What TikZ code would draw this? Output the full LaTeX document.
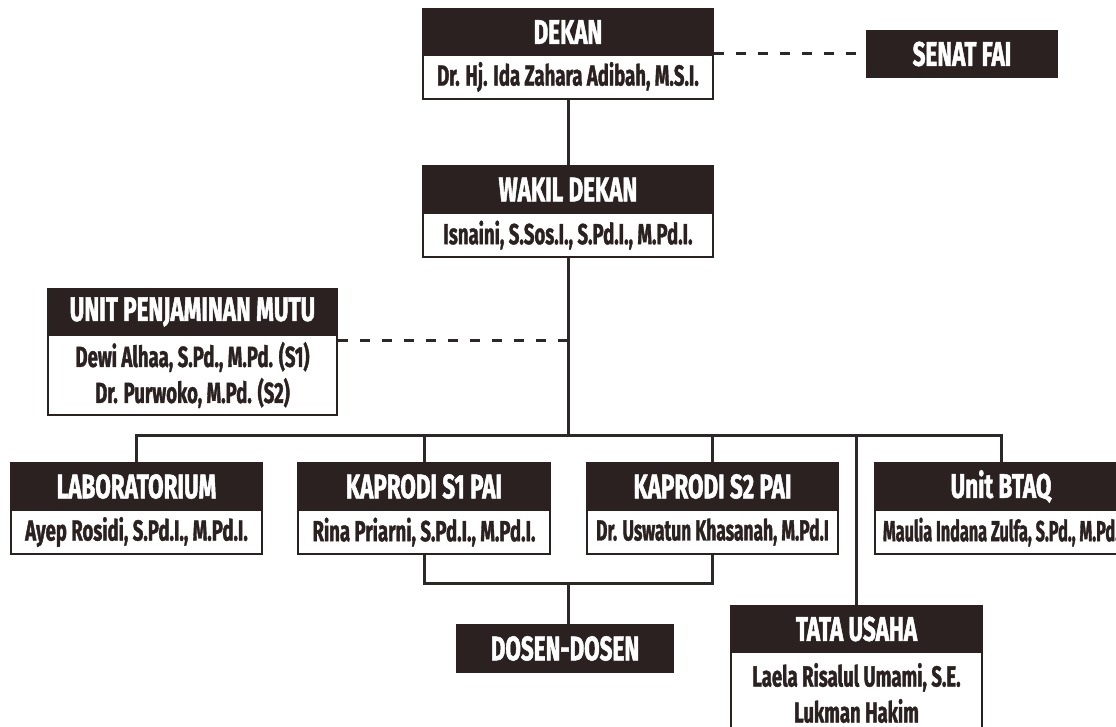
\documentclass[tikz,border=0pt]{standalone}
\usepackage{fontspec}
\newfontfamily\cf{Fira Sans}[FakeStretch=0.64,BoldFeatures={FakeBold=1.2}]
\newfontfamily\hf{Fira Sans}[FakeStretch=0.66,BoldFeatures={FakeBold=1.4}]
\definecolor{dark}{RGB}{43,33,33}
\definecolor{linec}{RGB}{45,40,40}
\begin{document}
\begin{tikzpicture}[x=1pt,y=-1pt,
  hdr/.style={fill=dark,draw=dark,line width=1.5pt,text=white,inner sep=0pt,
    minimum height=46pt,font=\hf\bfseries\fontsize{34}{38}\selectfont},
  body/.style={fill=white,draw=dark,line width=2pt,text=dark,inner sep=0pt,align=center,
    minimum height=44pt,font=\cf\bfseries\fontsize{29}{36}\selectfont},
  conn/.style={draw=linec,line width=3pt},
  dashline/.style={draw=linec,line width=3pt,dash pattern=on 10pt off 12pt}]
\useasboundingbox (0,0) rectangle (1116,727);
% DEKAN
\node[hdr,minimum width=290pt] (dekanH) at (568,32) {DEKAN};
\node[body,minimum width=290pt] (dekanB) at (568,77) {Dr. Hj. Ida Zahara Adibah, M.S.I.};
% SENAT
\node[hdr,minimum width=190pt] (senat) at (962,54) {SENAT FAI};
% WAKIL
\node[hdr,minimum width=290pt,minimum height=47pt] (wakilH) at (568,189.5) {WAKIL DEKAN};
\node[body,minimum width=290pt] (wakilB) at (568,235) {Isnaini, S.Sos.I., S.Pd.I., M.Pd.I.};
% UPM
\node[hdr,minimum width=289pt] (upmH) at (192.5,312) {UNIT PENJAMINAN MUTU};
\node[body,minimum width=289pt,minimum height=80pt] (upmB) at (192.5,375) {Dewi Alhaa, S.Pd., M.Pd. (S1)\\Dr. Purwoko, M.Pd. (S2)};
% LAB
\node[hdr,minimum width=251pt,minimum height=47pt] (labH) at (136.5,486.5) {LABORATORIUM};
\node[body,minimum width=251pt] (labB) at (136.5,532) {Ayep Rosidi, S.Pd.I., M.Pd.I.};
% S1
\node[hdr,minimum width=252pt,minimum height=47pt] (s1H) at (424,486.5) {KAPRODI S1 PAI};
\node[body,minimum width=252pt] (s1B) at (424,532) {Rina Priarni, S.Pd.I., M.Pd.I.};
% S2
\node[hdr,minimum width=251pt,minimum height=47pt] (s2H) at (712.5,486.5) {KAPRODI S2 PAI};
\node[body,minimum width=251pt] (s2B) at (712.5,532) {\addfontfeature{FakeStretch=0.6}Dr. Uswatun Khasanah, M.Pd.I};
% BTAQ
\node[hdr,minimum width=252pt,minimum height=47pt] (btaqH) at (1001,486.5) {Unit BTAQ};
\node[body,minimum width=252pt] (btaqB) at (1001,532) {\addfontfeature{FakeStretch=0.56}Maulia Indana Zulfa, S.Pd., M.Pd.};
% DOSEN
\node[hdr,minimum width=216pt,minimum height=47pt] (dosen) at (565,648.5) {DOSEN-DOSEN};
% TATA USAHA
\node[hdr,minimum width=251pt] (tataH) at (856.5,629) {TATA USAHA};
\node[body,minimum width=251pt,minimum height=82pt] (tataB) at (856.5,693) {Laela Risalul Umami, S.E.\\Lukman Hakim};
% connectors
\coordinate (bus) at (568,435);
\coordinate (br) at (568,583);
\draw[conn] (dekanB.south) -- (wakilH.north);
\draw[dashline] (senat.west -| dekanB.east) -- (senat.west);
\draw[conn] (wakilB.south) -- (bus);
\draw[dashline] ([yshift=-6pt]upmB.north east) -- ([yshift=-6pt]upmB.north east -| wakilB.south);
\draw[conn] (labH.north) -- (labH.north |- bus) -- (btaqH.north |- bus) -- (btaqH.north);
\draw[conn] (s1H.north |- bus) -- (s1H.north);
\draw[conn] (s2H.north |- bus) -- (s2H.north);
\draw[conn] (tataH.north |- bus) -- (tataH.north);
\draw[conn] (s1B.south) -- (s1B.south |- br) -- (s2B.south |- br) -- (s2B.south);
\draw[conn] (br) -- (br |- dosen.north);
\end{tikzpicture}
\end{document}
